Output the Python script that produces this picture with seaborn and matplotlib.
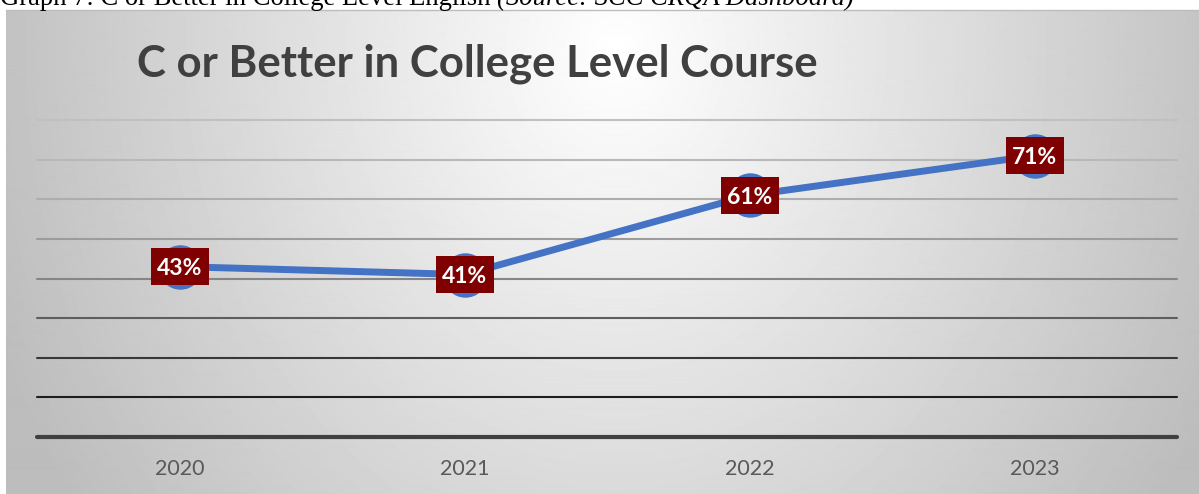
import numpy as np
import pandas as pd
import matplotlib
matplotlib.use("Agg")
import matplotlib.pyplot as plt
from matplotlib.patches import Rectangle
import seaborn as sns

# ---- data ----
years = ["2020", "2021", "2022", "2023"]
rates = [43, 41, 61, 71]
point_labels = ["43%", "41%", "61%", "71%"]
grid_levels = [10, 20, 30, 40, 50, 60, 70, 80]
grid_colors = ["#1e1e1e", "#383838", "#5e5e5e", "#858585",
               "#9c9c9c", "#adadad", "#b8b8b8", "#c0c0c0"]
title = "C or Better in College Level Course"
caption_main = "Graph 7: C or Better in College Level English "
caption_src = "(Source: SCC CRQA Dashboard)"

sns.set_theme(style="white")
plt.rcParams["font.family"] = ["Lato", "DejaVu Sans"]

W, H = 1199, 494
fig = plt.figure(figsize=(W / 100, H / 100), dpi=100)
fig.patch.set_facecolor("white")

# background gradient panel
bg = fig.add_axes([6 / W, 0, 1 - 6 / W, (H - 10) / H])
bw, bh = W - 6, H - 10
yy, xx = np.mgrid[0:bh, 0:bw]
cx, cy = 610, 40
r = np.sqrt(((xx - cx) / 640.0) ** 2 + ((yy - cy) / 760.0) ** 2)
val = np.clip(1.0 - 0.25 * r, 0.74, 1.0)
bg.imshow(val, cmap="gray", vmin=0, vmax=1, aspect="auto",
          extent=[0, bw, bh, 0], interpolation="bilinear")
bg.set_axis_off()
fig.add_artist(plt.Line2D([6 / W, 1], [(H - 10) / H, (H - 10) / H],
                          color="#bdbdbd", lw=1, transform=fig.transFigure))

# caption (partly cut at top, as in the source)
cap1 = fig.text(0, 1 - 5 / H, caption_main, family="Liberation Serif", fontsize=19.2,
                color="black", va="baseline", ha="left")
fig.canvas.draw()
ext = cap1.get_window_extent()
fig.text(ext.x1 / W, 1 - 5 / H, caption_src, family="Liberation Serif",
         style="italic", fontsize=19.2, color="black", va="baseline", ha="left")

# main axes
x0, x1, y0, y1 = 37, 1177, 120, 437
ax = fig.add_axes([x0 / W, (H - y1) / H, (x1 - x0) / W, (y1 - y0) / H])
ax.set_facecolor("none")
df = pd.DataFrame({"year": years, "rate": rates})

for lvl, col in zip(grid_levels, grid_colors):
    ax.axhline(lvl, color=col, lw=1.5, zorder=1, clip_on=False)
ax.axhline(0, color="#404040", lw=3, zorder=1, clip_on=False)

sns.lineplot(data=df, x="year", y="rate", ax=ax, color="#4472C4", lw=5,
             marker="o", markersize=32, markeredgewidth=0, markerfacecolor="#4472C4",
             sort=False, clip_on=False, zorder=3)

ax.set_xlim(-0.5, 3.5)
ax.set_ylim(0, 80)

# label boxes sized in pixels via axis scales
px_x = (x1 - x0) / 4.0
px_y = (y1 - y0) / 80.0
bw_px, bh_px = 58, 37
for i, (v, lab) in enumerate(zip(rates, point_labels)):
    w = bw_px / px_x
    h = bh_px / px_y
    ax.add_patch(Rectangle((i - w / 2, v - h / 2), w, h, facecolor="#7F0000",
                           edgecolor="none", zorder=4, clip_on=False))
    ax.text(i, v, lab, ha="center", va="center_baseline", color="white",
            fontsize=16.5, fontweight="bold", zorder=5)

for s in ax.spines.values():
    s.set_visible(False)
ax.set_yticks([])
ax.set_xlabel("")
ax.set_ylabel("")
ax.tick_params(axis="x", length=0, pad=16, labelsize=15.5, labelcolor="#595959")

fig.text(137 / W, 1 - 76 / H, title, fontsize=31.5, fontweight="bold",
         color="#404040", ha="left", va="baseline")

fig.savefig("out.png", dpi=100)
